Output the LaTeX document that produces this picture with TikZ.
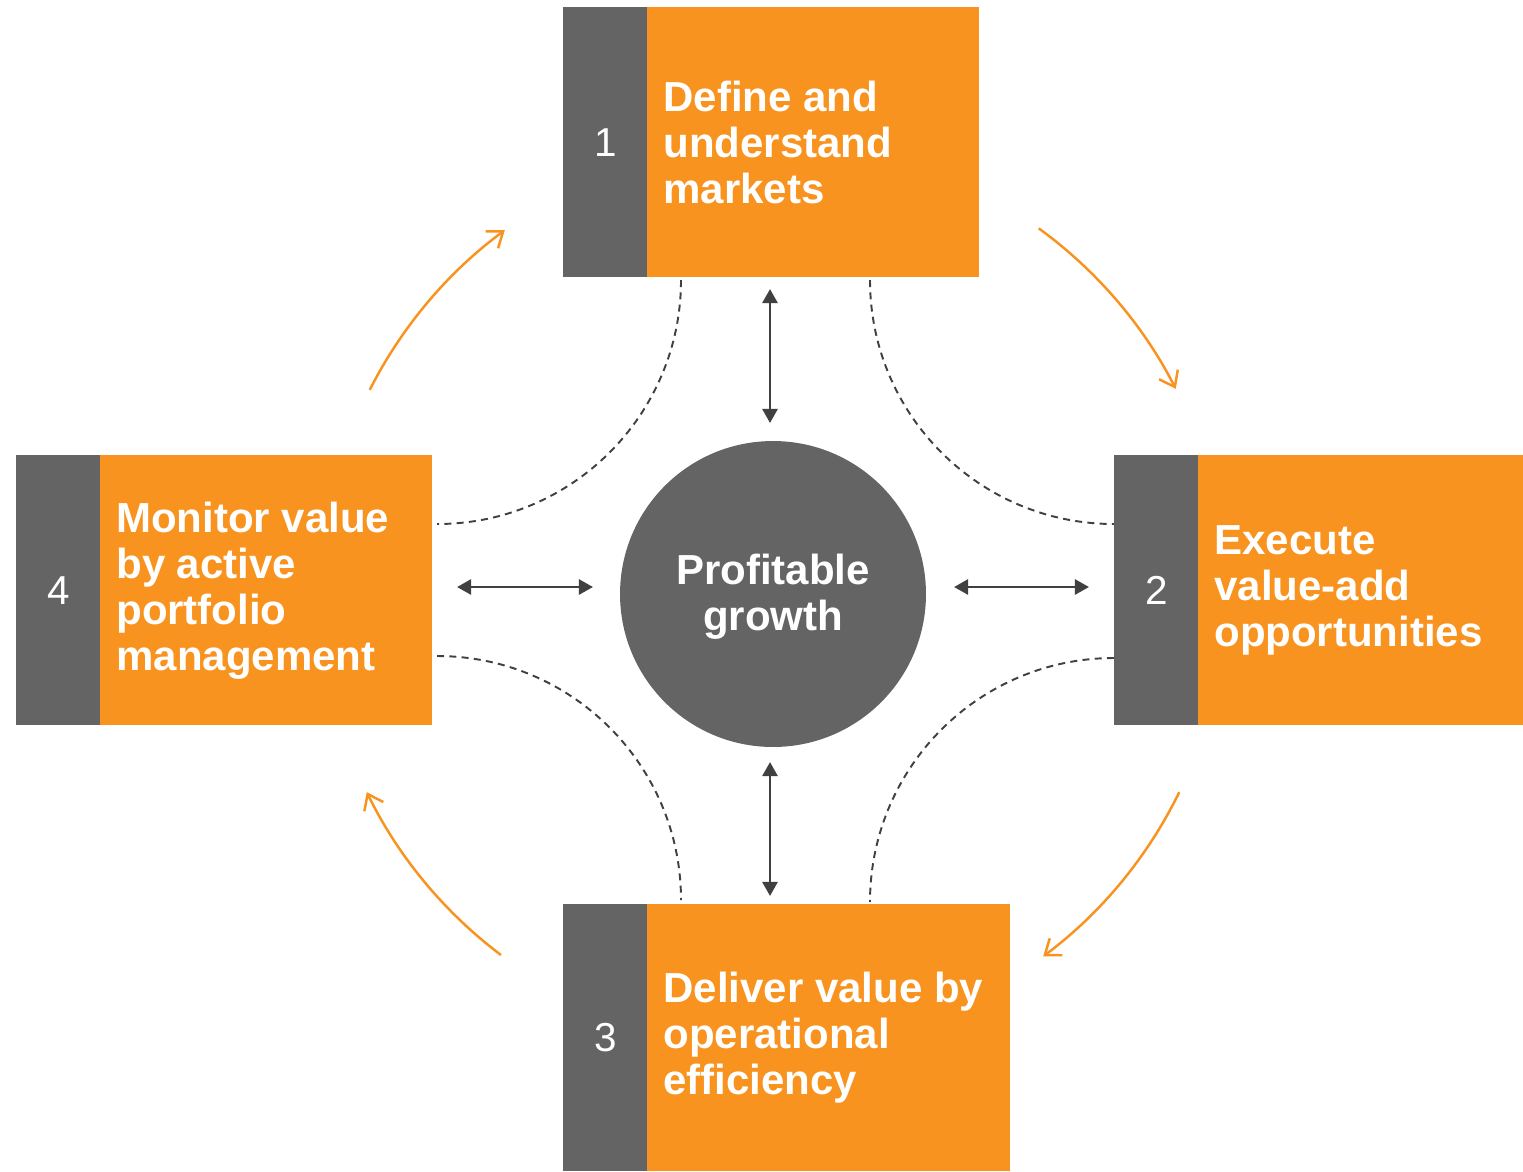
\documentclass[tikz,border=0pt]{standalone}
\usepackage{fontspec}
\setmainfont{Liberation Sans}
\usetikzlibrary{arrows.meta}
\definecolor{org}{HTML}{F8931F}
\definecolor{gry}{HTML}{646464}
\definecolor{drk}{HTML}{404040}
\begin{document}
\begin{tikzpicture}[x=0.02cm,y=-0.02cm,
  graybox/.style={fill=gry,draw=none,inner sep=0pt,minimum width=1.68cm,anchor=north west},
  orgbox/.style={fill=org,draw=none,inner sep=0pt,anchor=north west},
  num/.style={text=white,font=\fontsize{23pt}{26pt}\selectfont},
  lbl/.style={text=white,font=\bfseries\fontsize{23.9pt}{26.2pt}\selectfont,align=left,anchor=west,inner sep=0pt},
  dbl/.style={draw=drk,line width=1.6pt,{Triangle[length=8pt,width=8.5pt]}-{Triangle[length=8pt,width=8.5pt]}},
  dsh/.style={draw=drk,line width=1.1pt,dash pattern=on 4pt off 3pt},
  flow/.style={draw=org,line width=1.4pt,-{Straight Barb[length=8pt,width=12pt,line width=1.4pt]}}
]
\useasboundingbox (0,0) rectangle (1523,1171);
% box 1
\node[graybox,minimum height=5.4cm] (g1) at (563,7) {};
\node[orgbox,minimum width=6.64cm,minimum height=5.4cm] (o1) at (647,7) {};
\node[num] (n1) at (g1.center) {1};
\node[lbl] (t1) at ([xshift=0.32cm]o1.west) {Define and\\understand\\markets};
% box 2
\node[graybox,minimum height=5.4cm] (g2) at (1114,455) {};
\node[orgbox,minimum width=6.5cm,minimum height=5.4cm] (o2) at (1198,455) {};
\node[num] (n2) at (g2.center) {2};
\node[lbl] (t2) at ([xshift=0.32cm]o2.west) {Execute\\value-add\\opportunities};
% box 3
\node[graybox,minimum height=5.34cm] (g3) at (563,904) {};
\node[orgbox,minimum width=7.26cm,minimum height=5.34cm] (o3) at (647,904) {};
\node[num] (n3) at (g3.center) {3};
\node[lbl] (t3) at ([xshift=0.32cm]o3.west) {Deliver value by\\operational\\efficiency};
% box 4
\node[graybox,minimum height=5.4cm] (g4) at (16,455) {};
\node[orgbox,minimum width=6.64cm,minimum height=5.4cm] (o4) at (100,455) {};
\node[num] (n4) at (g4.center) {4};
\node[lbl] (t4) at ([xshift=0.32cm]o4.west) {Monitor value\\by active\\portfolio\\management};
% circle
\node[circle,fill=gry,minimum size=6.12cm,inner sep=0pt] (c) at (773,594) {};
\node[text=white,font=\bfseries\fontsize{23.9pt}{26.2pt}\selectfont,align=center] (ct) at (773,597) {Profitable\\growth};
% double arrows
\coordinate (a1) at (770,289); \coordinate (a2) at (770,423);
\coordinate (b1) at (770,762); \coordinate (b2) at (770,896);
\coordinate (l1) at (457,587); \coordinate (l2) at (593,587);
\coordinate (r1) at (954,587); \coordinate (r2) at (1089,587);
\draw[dbl] (a1) -- (a2);
\draw[dbl] (b1) -- (b2);
\draw[dbl] (l1) -- (l2);
\draw[dbl] (r1) -- (r2);
% dashed arcs
\coordinate (d1) at (681,280); \coordinate (d2) at (870,280);
\coordinate (d5) at (437,656); \coordinate (d6) at (1114,658);
\draw[dsh] (d1) arc[start angle=0,end angle=90,radius=244];
\draw[dsh] (d2) arc[start angle=180,end angle=90,radius=244];
\draw[dsh] (d5) arc[start angle=270,end angle=360,radius=244];
\draw[dsh] (d6) arc[start angle=270,end angle=180,radius=244];
% orange flow arcs around circle centre, radius 452px
\draw[flow] (c.center) ++(-153.15:452) arc[start angle=-153.15,end angle=-126.4,radius=452];
\draw[flow] (c.center) ++(-54:452) arc[start angle=-54,end angle=-27,radius=452];
\draw[flow] (c.center) ++(26:452) arc[start angle=26,end angle=53.3,radius=452];
\draw[flow] (c.center) ++(127:452) arc[start angle=127,end angle=154,radius=452];
\end{tikzpicture}
\end{document}
